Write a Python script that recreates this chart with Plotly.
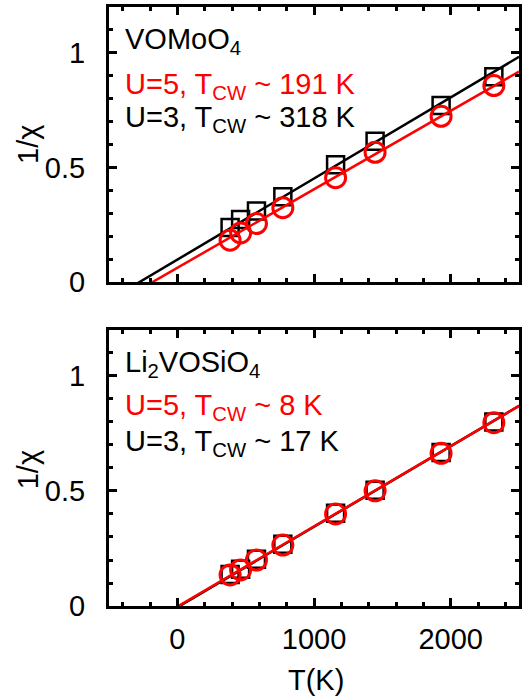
import plotly.graph_objects as go
from plotly.subplots import make_subplots

# Temperatures of the computed points (K)
T = [386, 463, 579, 772, 1158, 1447, 1930, 2316]

# VOMoO4: inverse susceptibility for two U values
vomoo4_u3 = [0.238, 0.273, 0.310, 0.372, 0.512, 0.614, 0.770, 0.896]
vomoo4_u5 = [0.182, 0.214, 0.255, 0.324, 0.455, 0.566, 0.723, 0.857]

# Li2VOSiO4
li2_u3 = [0.137, 0.160, 0.203, 0.268, 0.403, 0.503, 0.667, 0.800]
li2_u5 = [0.135, 0.157, 0.200, 0.265, 0.400, 0.501, 0.664, 0.797]

# Curie-Weiss fit lines: x-intercept (K) and slope (1/chi per K)
fit_T = [-500, 2500]
vomoo4_u3_fit = (-275, 3.54e-4)
vomoo4_u5_fit = (-180, 3.426e-4)
li2_u3_fit = (17, 3.504e-4)
li2_u5_fit = (8, 3.49e-4)


def fit_line(params):
    t0, k = params
    return [k * (t - t0) for t in fit_T]


FONT = "Liberation Sans, Arial, Helvetica, sans-serif"
RED = "#ff0000"
BLACK = "#000000"

fig = make_subplots(rows=2, cols=1, shared_xaxes=False, vertical_spacing=0.08)

panels = [
    (1, vomoo4_u3, vomoo4_u5, vomoo4_u3_fit, vomoo4_u5_fit),
    (2, li2_u3, li2_u5, li2_u3_fit, li2_u5_fit),
]
for row, u3, u5, f3, f5 in panels:
    fig.add_trace(go.Scatter(x=fit_T, y=fit_line(f3), mode="lines",
                             line=dict(color=BLACK, width=2.5),
                             showlegend=False, hoverinfo="skip"), row=row, col=1)
    fig.add_trace(go.Scatter(x=T, y=u3, mode="markers",
                             marker=dict(symbol="square-open", size=17,
                                         line=dict(color=BLACK, width=2.5), color=BLACK),
                             showlegend=False), row=row, col=1)
    fig.add_trace(go.Scatter(x=fit_T, y=fit_line(f5), mode="lines",
                             line=dict(color=RED, width=2.5),
                             showlegend=False, hoverinfo="skip"), row=row, col=1)
    fig.add_trace(go.Scatter(x=T, y=u5, mode="markers",
                             marker=dict(symbol="circle-open", size=20,
                                         line=dict(color=RED, width=3), color=RED),
                             showlegend=False), row=row, col=1)

axis_common = dict(
    showline=True, linecolor=BLACK, linewidth=3, mirror="allticks",
    ticks="inside", ticklen=8, tickwidth=2.5, tickcolor=BLACK,
    showgrid=False, zeroline=False,
    tickfont=dict(family=FONT, size=29, color=BLACK),
)

for row in (1, 2):
    fig.update_xaxes(range=[-500, 2500], tick0=0, dtick=1000,
                     minor=dict(ticks="inside", ticklen=4, tickwidth=2.5,
                                tickcolor=BLACK, dtick=200, tick0=0),
                     showticklabels=(row == 2), ticklabelstandoff=5,
                     row=row, col=1, **axis_common)
    fig.update_yaxes(range=[0, 1.2], tickvals=[0, 0.5, 1], ticktext=["0", "0.5", "1"],
                     minor=dict(ticks="inside", ticklen=4, tickwidth=2.5,
                                tickcolor=BLACK, dtick=0.1, tick0=0),
                     ticklabelstandoff=15,
                     row=row, col=1, **axis_common)

fig.update_layout(
    yaxis=dict(domain=[0.541, 1.0]),
    yaxis2=dict(domain=[0.0, 0.4608]),
)

ann_font = dict(family=FONT, size=29)
texts = [
    ("x domain", "y domain", 0.878, "VOMoO<sub>4</sub>", BLACK),
    ("x domain", "y domain", 0.711, "U=5, T<sub>CW</sub> ~ 191 K", RED),
    ("x domain", "y domain", 0.593, "U=3, T<sub>CW</sub> ~ 318 K", BLACK),
    ("x2 domain", "y2 domain", 0.876, "Li<sub>2</sub>VOSiO<sub>4</sub>", BLACK),
    ("x2 domain", "y2 domain", 0.72, "U=5, T<sub>CW</sub> ~ 8 K", RED),
    ("x2 domain", "y2 domain", 0.592, "U=3, T<sub>CW</sub> ~ 17 K", BLACK),
]
for xr, yr, yv, txt, col in texts:
    fig.add_annotation(xref=xr, yref=yr, x=0.033, y=yv, text=txt,
                       showarrow=False, xanchor="left", yanchor="middle",
                       font=dict(color=col, **ann_font))

# Axis titles
fig.add_annotation(xref="paper", yref="paper", x=-0.197, y=0.770, text="1/χ",
                   textangle=-90, showarrow=False, xanchor="center", yanchor="middle",
                   font=dict(color=BLACK, **ann_font))
fig.add_annotation(xref="paper", yref="paper", x=-0.197, y=0.227, text="1/χ",
                   textangle=-90, showarrow=False, xanchor="center", yanchor="middle",
                   font=dict(color=BLACK, **ann_font))
fig.add_annotation(xref="paper", yref="paper", x=0.506, y=-0.1235, text="T(K)",
                   showarrow=False, xanchor="center", yanchor="middle",
                   font=dict(color=BLACK, **ann_font))

fig.update_layout(
    width=525, height=696,
    margin=dict(l=109, r=3, t=7, b=90),
    plot_bgcolor="white", paper_bgcolor="white",
    font=dict(family=FONT, color=BLACK),
)

fig.write_html("out.html")
